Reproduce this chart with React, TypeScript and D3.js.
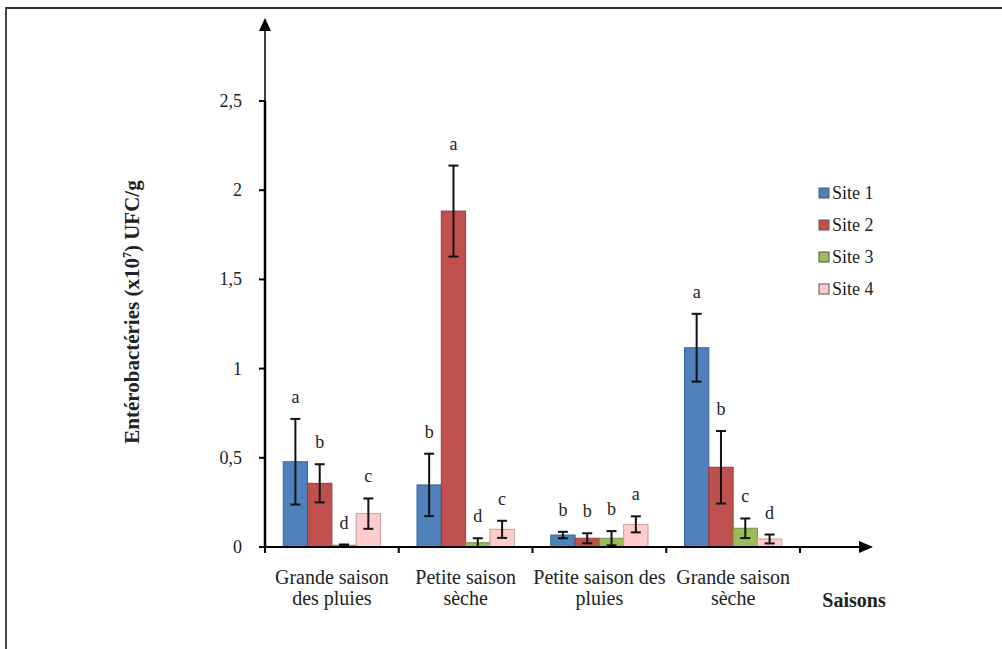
import React from "react";
import * as d3 from "d3";

const categoryLines: string[][] = [
  ["Grande saison", "des pluies"],
  ["Petite saison", "sèche"],
  ["Petite saison des", "pluies"],
  ["Grande saison", "sèche"],
];
const sites = ["Site 1", "Site 2", "Site 3", "Site 4"];
const site1 = [0.478, 0.348, 0.067, 1.117];
const site2 = [0.357, 1.883, 0.049, 0.447];
const site3 = [0.01, 0.024, 0.049, 0.105];
const site4 = [0.187, 0.099, 0.127, 0.045];
const err1 = [0.24, 0.175, 0.018, 0.19];
const err2 = [0.107, 0.255, 0.028, 0.203];
const err3 = [0.004, 0.025, 0.04, 0.055];
const err4 = [0.085, 0.048, 0.045, 0.025];
const letters1 = ["a", "b", "b", "a"];
const letters2 = ["b", "a", "b", "b"];
const letters3 = ["d", "d", "b", "c"];
const letters4 = ["c", "c", "a", "d"];
const yTicks = [0, 0.5, 1, 1.5, 2, 2.5];

const fills = ["#4F81BD", "#C0504D", "#9BBB59", "#FFCCCC"];
const strokes = ["#3A6596", "#963C3A", "#779244", "#C79C9C"];

const values = [site1, site2, site3, site4];
const errors = [err1, err2, err3, err4];
const letters = [letters1, letters2, letters3, letters4];

const FONT = "'Liberation Serif', 'Times New Roman', serif";

export default function App() {
  const x0 = 265;
  const xEnd = 800;
  const y0 = 547;
  const x = d3
    .scaleBand<number>()
    .domain(categoryLines.map((_, i) => i))
    .range([x0, xEnd])
    .paddingInner(0)
    .paddingOuter(0);
  const x1 = d3
    .scaleBand<number>()
    .domain(sites.map((_, i) => i))
    .range([0, x.bandwidth()])
    .paddingInner(0)
    .paddingOuter(0.75);
  const y = d3.scaleLinear().domain([0, 2.5]).range([y0, 101]);
  const fmt = (v: number) => String(v).replace(".", ",");

  const boundaries = d3.range(categoryLines.length + 1).map((i) => x0 + i * x.step());

  return (
    <svg
      width={1002}
      height={649}
      style={{ position: "absolute", left: 0, top: 0, background: "#fff" }}
      fontFamily={FONT}
    >
      <rect x={0} y={0} width={1002} height={649} fill="#fff" />
      {/* frame */}
      <line x1={6} y1={8} x2={1002} y2={8} stroke="#333" strokeWidth={2} />
      <line x1={6} y1={7} x2={6} y2={649} stroke="#444" strokeWidth={2} />

      {/* bars */}
      {values.map((series, s) =>
        series.map((v, c) => {
          const bx = (x(c) as number) + (x1(s) as number);
          const bw = x1.bandwidth();
          return (
            <rect
              key={`b${s}-${c}`}
              x={bx}
              y={y(v)}
              width={bw}
              height={y0 - y(v)}
              fill={fills[s]}
              stroke={strokes[s]}
              strokeWidth={1}
            />
          );
        })
      )}

      {/* error bars */}
      {values.map((series, s) =>
        series.map((v, c) => {
          const cx = (x(c) as number) + (x1(s) as number) + x1.bandwidth() / 2;
          const e = errors[s][c];
          const top = y(v + e);
          const bot = y(Math.max(0, v - e));
          return (
            <g key={`e${s}-${c}`} stroke="#111" strokeWidth={2}>
              <line x1={cx} x2={cx} y1={top} y2={bot} />
              <line x1={cx - 5} x2={cx + 5} y1={top} y2={top} />
              <line x1={cx - 5} x2={cx + 5} y1={bot} y2={bot} />
            </g>
          );
        })
      )}

      {/* letters */}
      {values.map((series, s) =>
        series.map((v, c) => {
          const cx = (x(c) as number) + (x1(s) as number) + x1.bandwidth() / 2;
          const e = errors[s][c];
          return (
            <text
              key={`l${s}-${c}`}
              x={cx}
              y={y(v + e) - 16}
              textAnchor="middle"
              fontSize={18}
              fill="#222"
            >
              {letters[s][c]}
            </text>
          );
        })
      )}

      {/* y axis */}
      <line x1={x0} x2={x0} y1={y0} y2={y(2.5)} stroke="#000" strokeWidth={2.5} />
      <line x1={x0} x2={x0} y1={y0} y2={28} stroke="#000" strokeWidth={1.5} />
      <path d={`M${x0},18 L${x0 - 6},31 L${x0 + 6},31 Z`} fill="#000" />
      {yTicks.map((t) => (
        <g key={`yt${t}`}>
          <line x1={x0 - 6} x2={x0} y1={y(t)} y2={y(t)} stroke="#000" strokeWidth={2} />
          <text
            x={242}
            y={y(t) + 6}
            textAnchor="end"
            fontSize={18}
            fill="#222"
          >
            {fmt(t)}
          </text>
        </g>
      ))}

      {/* x axis */}
      <line x1={x0 - 1} x2={862} y1={y0} y2={y0} stroke="#000" strokeWidth={2} />
      <path d={`M873,${y0} L859,${y0 - 6} L859,${y0 + 6} Z`} fill="#000" />
      {boundaries.map((bx, i) => (
        <line key={`xt${i}`} x1={bx} x2={bx} y1={y0} y2={y0 + 6} stroke="#000" strokeWidth={2} />
      ))}
      {categoryLines.map((lines, c) => (
        <text
          key={`cat${c}`}
          x={(x(c) as number) + x.bandwidth() / 2}
          y={584}
          textAnchor="middle"
          fontSize={20}
          fill="#222"
        >
          {lines.map((ln, k) => (
            <tspan key={k} x={(x(c) as number) + x.bandwidth() / 2} dy={k === 0 ? 0 : 21}>
              {ln}
            </tspan>
          ))}
        </text>
      ))}
      <text x={854} y={607} textAnchor="middle" fontSize={20} fontWeight="bold" fill="#222">
        Saisons
      </text>

      {/* y title */}
      <text
        transform={`translate(139,312) rotate(-90)`}
        textAnchor="middle"
        fontSize={21}
        fontWeight="bold"
        fill="#222"
      >
        Entérobactéries (x10
        <tspan dy={-8} fontSize={12}>7</tspan>
        <tspan dy={8}>) UFC/g</tspan>
      </text>

      {/* legend */}
      {sites.map((s, i) => (
        <g key={`lg${i}`} transform={`translate(819,${188 + i * 32})`}>
          <rect x={0} y={0} width={10} height={10} fill={fills[i]} stroke="#555" strokeWidth={1} />
          <text x={13} y={11} fontSize={18} fill="#222">
            {s}
          </text>
        </g>
      ))}
    </svg>
  );
}
